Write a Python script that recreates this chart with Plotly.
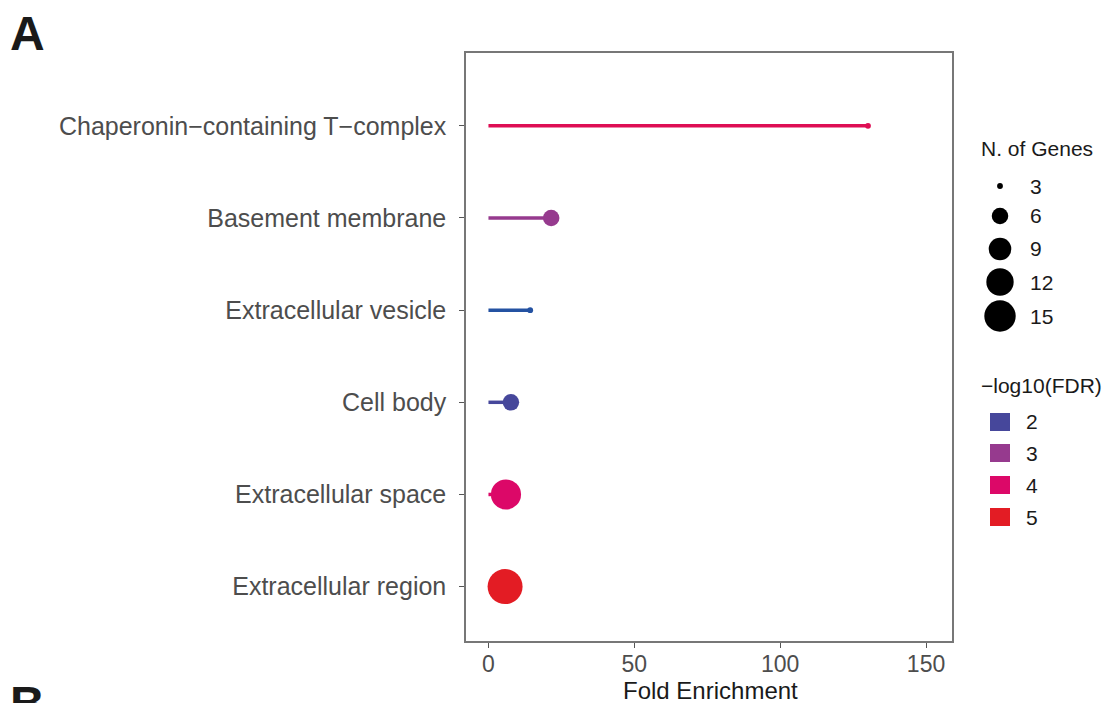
import plotly.graph_objects as go
from plotly.colors import sample_colorscale

# GO cellular component enrichment
terms = [
    "Extracellular region",
    "Extracellular space",
    "Cell body",
    "Extracellular vesicle",
    "Basement membrane",
    "Chaperonin\u2212containing T\u2212complex",
]
fold_enrichment = [5.7, 6.0, 7.7, 14.3, 21.5, 130.1]
n_genes = [18, 14, 6, 3, 6, 3]
neg_log10_fdr = [5.0, 4.0, 2.0, 1.5, 3.0, 4.3]

size_breaks = [3, 6, 9, 12, 15]
color_breaks = [2, 3, 4, 5]
x_ticks = [0, 50, 100, 150]

W, H = 1110, 703
# panel box in pixels: left, right, top, bottom
PL, PR, PT, PB = 466, 952, 53, 641

# continuous colour scale over -log10(FDR)
c_lo, c_hi = 1.5, 5.0
anchors = [(1.5, "#2452a2"), (2.0, "#46479b"), (3.0, "#963a8e"),
           (4.0, "#dc0868"), (5.0, "#e31c24")]
cscale = [[(v - c_lo) / (c_hi - c_lo), c] for v, c in anchors]


def colour(v):
    return sample_colorscale(cscale, [(v - c_lo) / (c_hi - c_lo)], colortype="rgb")[0]


# point area grows linearly with gene count (ggplot-like scale_size)
n_lo, n_hi = 3, 18
d_max = 35.0


def diameter(n):
    area = 1 + 35 * (n - n_lo) / (n_hi - n_lo)
    return d_max * (area / 36.0) ** 0.5


def px(x):
    return x / W


def py(y):
    return 1 - y / H


fig = go.Figure()

# lollipop stems
for t, fe, fdr in zip(terms, fold_enrichment, neg_log10_fdr):
    fig.add_trace(go.Scatter(
        x=[0, fe], y=[t, t], mode="lines",
        line=dict(color=colour(fdr), width=3.5),
        showlegend=False, hoverinfo="skip",
    ))

# lollipop heads
fig.add_trace(go.Scatter(
    x=fold_enrichment, y=terms, mode="markers",
    marker=dict(size=[diameter(n) for n in n_genes],
                color=[colour(v) for v in neg_log10_fdr],
                opacity=1, line=dict(width=0)),
    showlegend=False,
))

font_family = "Liberation Sans, Arial, sans-serif"
leg_font = dict(family=font_family, size=21, color="#1a1a1a")

# size legend
size_y = [186, 216, 249, 282, 316]
for b, yc in zip(size_breaks, size_y):
    r = diameter(b) / 2
    fig.add_shape(type="circle", xref="paper", yref="paper",
                  x0=px(1000 - r), x1=px(1000 + r), y0=py(yc + r), y1=py(yc - r),
                  fillcolor="black", line=dict(width=0))
    fig.add_annotation(xref="paper", yref="paper", x=px(1028), y=py(yc), text=str(b),
                       showarrow=False, xanchor="left", yanchor="middle", font=leg_font)

# colour legend
col_y = [422, 453, 485, 517]
for b, yc in zip(color_breaks, col_y):
    fig.add_shape(type="rect", xref="paper", yref="paper",
                  x0=px(990), x1=px(1010), y0=py(yc + 9), y1=py(yc - 9),
                  fillcolor=colour(b), line=dict(width=0))
    fig.add_annotation(xref="paper", yref="paper", x=px(1024), y=py(yc), text=str(b),
                       showarrow=False, xanchor="left", yanchor="middle", font=leg_font)

fig.add_annotation(xref="paper", yref="paper", x=px(979), y=py(148), text="N. of Genes",
                   showarrow=False, xanchor="left", yanchor="middle", font=leg_font)
fig.add_annotation(xref="paper", yref="paper", x=px(979), y=py(386), text="\u2212log10(FDR)",
                   showarrow=False, xanchor="left", yanchor="middle", font=leg_font)

# x-axis title
fig.add_annotation(xref="paper", yref="paper", x=px((PL + PR) / 2 + 1), y=py(690),
                   text="Fold Enrichment", showarrow=False,
                   xanchor="center", yanchor="middle",
                   font=dict(family=font_family, size=24, color="#1a1a1a"))

# panel letters
fig.add_annotation(xref="paper", yref="paper", x=px(8), y=py(34), text="<b>A</b>",
                   showarrow=False, xanchor="left", yanchor="middle",
                   font=dict(family=font_family, size=48, color="#1a1a1a"))
fig.add_annotation(xref="paper", yref="paper", x=px(8), y=py(675), text="<b>B</b>",
                   showarrow=False, xanchor="left", yanchor="top",
                   font=dict(family=font_family, size=48, color="#1a1a1a"))

fig.update_layout(
    width=W, height=H,
    margin=dict(l=0, r=0, t=0, b=0),
    paper_bgcolor="white", plot_bgcolor="white",
    showlegend=False,
    font=dict(family=font_family),
    xaxis=dict(
        domain=[PL / W, PR / W], automargin=False,
        range=[-7.7, 158.9], tickvals=x_ticks, ticks="outside", ticklen=5,
        tickcolor="#555", tickwidth=1.3,
        showgrid=False, zeroline=False,
        showline=True, mirror=True, linecolor="#777", linewidth=1.5,
        tickfont=dict(family=font_family, size=23, color="#4d4d4d"),
        ticklabelstandoff=-3,
    ),
    yaxis=dict(
        domain=[(H - PB) / H, (H - PT) / H], automargin=False,
        categoryorder="array", categoryarray=terms,
        range=[-0.59, 5.79], ticks="outside", ticklen=5,
        tickcolor="#555", tickwidth=1.3,
        showgrid=False, zeroline=False,
        showline=True, mirror=True, linecolor="#777", linewidth=1.5,
        tickfont=dict(family=font_family, size=25, color="#4d4d4d"),
        ticklabelstandoff=8,
    ),
)

fig.write_html("out.html")
